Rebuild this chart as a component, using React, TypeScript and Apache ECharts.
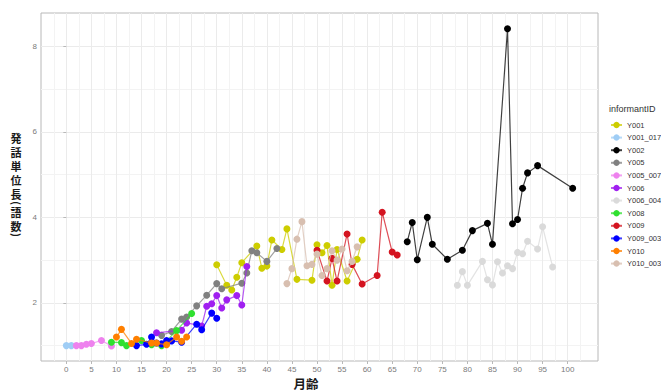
import React, { useEffect, useRef } from "react";
import * as echarts from "echarts";

// ---- data: [month, utterance length] ----
const seriesNames = ["Y001", "Y001_017", "Y002", "Y005", "Y005_007", "Y006", "Y006_004", "Y008", "Y009", "Y009_003", "Y010", "Y010_003"];
const seriesColors = ["#cdcd00", "#9fcdf5", "#000000", "#808080", "#ee82ee", "#a020f0", "#dadada", "#2fe02f", "#d41420", "#0000ff", "#ff7f00", "#d8bfb0"];

const Y001 = [[30, 2.89], [32, 2.41], [33, 2.3], [34, 2.6], [35, 2.94], [38, 3.33], [39, 2.81], [40, 2.86], [41, 3.47], [43, 3.25], [44, 3.73], [46, 2.55], [49, 2.53], [50, 3.36], [51, 3.17], [52, 3.34], [53, 2.41], [54, 3.25], [56, 2.51], [58, 3.02], [59, 3.47]];
const Y001_017 = [[0, 1.0], [1, 1.0]];
const Y002 = [[68, 3.43], [69, 3.88], [70, 3.01], [72, 4.0], [73, 3.37], [76, 3.02], [79, 3.23], [81, 3.69], [84, 3.86], [85, 3.37], [88, 8.41], [89, 3.85], [90, 3.95], [91, 4.68], [92, 5.04], [94, 5.21], [101, 4.68]];
const Y005 = [[19, 1.24], [21, 1.33], [23, 1.62], [24, 1.67], [26, 1.93], [28, 2.18], [30, 2.45], [31, 2.33], [35, 2.46], [36, 2.7], [37, 3.22], [38, 3.17], [40, 2.97], [42, 3.27]];
const Y005_007 = [[2, 1.0], [3, 1.0], [4, 1.03], [5, 1.05], [7, 1.12], [9, 0.99]];
const Y006 = [[18, 1.3], [23, 1.36], [24, 1.53], [27, 1.46], [28, 1.92], [29, 1.98], [30, 2.17], [31, 1.88], [32, 2.07], [34, 2.17], [35, 1.95], [36, 2.85]];
const Y006_004 = [[78, 2.41], [79, 2.73], [80, 2.41], [83, 2.97], [84, 2.54], [85, 2.42], [86, 2.96], [87, 2.7], [88, 2.87], [89, 2.8], [90, 3.18], [91, 3.15], [92, 3.44], [94, 3.26], [95, 3.78], [97, 2.84]];
const Y008 = [[9, 1.08], [11, 1.07], [12, 1.0], [15, 1.12], [17, 1.02], [19, 1.0], [22, 1.35], [25, 1.75]];
const Y009 = [[50, 3.23], [52, 2.51], [53, 3.04], [54, 2.51], [56, 3.61], [57, 2.9], [59, 2.44], [62, 2.64], [63, 4.12], [65, 3.19], [66, 3.12]];
const Y009_003 = [[14, 1.0], [16, 1.03], [17, 1.2], [18, 1.06], [19, 1.04], [20, 1.12], [21, 1.11], [23, 1.08], [26, 1.5], [27, 1.37], [29, 1.76], [30, 1.64]];
const Y010 = [[10, 1.2], [11, 1.38], [13, 1.05], [14, 1.15], [17, 1.06], [18, 1.06], [20, 1.02], [22, 1.2], [23, 1.1], [24, 1.2]];
const Y010_003 = [[44, 2.45], [45, 2.8], [46, 3.49], [47, 3.9], [48, 2.87], [49, 2.9], [50, 3.14], [51, 2.64], [52, 2.8], [53, 3.22], [54, 3.0], [55, 3.26], [56, 2.75], [57, 2.97], [58, 3.31]];

const seriesData = [Y001, Y001_017, Y002, Y005, Y005_007, Y006, Y006_004, Y008, Y009, Y009_003, Y010, Y010_003];

const xMajorTicks = [0, 5, 10, 15, 20, 25, 30, 35, 40, 45, 50, 55, 60, 65, 70, 75, 80, 85, 90, 95, 100];
const xMinorTicks = [-2.5, 2.5, 7.5, 12.5, 17.5, 22.5, 27.5, 32.5, 37.5, 42.5, 47.5, 52.5, 57.5, 62.5, 67.5, 72.5, 77.5, 82.5, 87.5, 92.5, 97.5, 102.5];
const yMajorTicks = [2, 4, 6, 8];
const yMinorTicks = [1, 3, 5, 7];

const xTitle = "月齢";
const yTitleMain = "発\n話\n単\n位\n長";
const yTitleInner = "語\n数";
const yTitleOpen = "(";
const yTitleClose = ")";
const legendTitle = "informantID";

const X_MIN = -5.05, X_MAX = 106.05, Y_MIN = 0.64, Y_MAX = 8.78;

export default function App() {
  const ref = useRef<HTMLDivElement>(null);
  useEffect(() => {
    if (!ref.current) return;
    const chart = echarts.init(ref.current, null, { renderer: "svg" });
    const sans = "'Liberation Sans', Arial, sans-serif";
    const cjk = "'Noto Sans CJK JP', sans-serif";
    const titleStyle = { fontSize: 11, fontWeight: "bold", fill: "#1a1a1a", fontFamily: cjk, align: "center", verticalAlign: "middle", lineHeight: 14 };
    const option: any = {
      animation: false,
      backgroundColor: "#ffffff",
      grid: { left: 41, top: 13, width: 557, height: 348, show: true, borderColor: "#b8b8b8", borderWidth: 1, backgroundColor: "transparent", containLabel: false },
      xAxis: [
        {
          type: "value", min: X_MIN, max: X_MAX,
          axisLine: { show: false },
          axisTick: { show: true, length: 3, customValues: xMajorTicks, lineStyle: { color: "#b8b8b8" } },
          axisLabel: { customValues: xMajorTicks, fontSize: 8, color: "#7a7a7a", margin: 4, fontFamily: sans },
          splitLine: { show: true, lineStyle: { color: "#ebebeb", width: 1 } },
        },
        {
          type: "value", min: X_MIN, max: X_MAX, position: "bottom",
          axisLine: { show: false },
          axisTick: { show: false, customValues: xMinorTicks },
          axisLabel: { show: false, customValues: xMinorTicks },
          splitLine: { show: true, lineStyle: { color: "#f3f3f3", width: 1 } },
        },
      ],
      yAxis: [
        {
          type: "value", min: Y_MIN, max: Y_MAX,
          axisLine: { show: false },
          axisTick: { show: true, length: 3, customValues: yMajorTicks, lineStyle: { color: "#b8b8b8" } },
          axisLabel: { customValues: yMajorTicks, fontSize: 8, color: "#7a7a7a", margin: 4, fontFamily: sans },
          splitLine: { show: true, lineStyle: { color: "#ebebeb", width: 1 } },
        },
        {
          type: "value", min: Y_MIN, max: Y_MAX, position: "left",
          axisLine: { show: false },
          axisTick: { show: false, customValues: yMinorTicks },
          axisLabel: { show: false, customValues: yMinorTicks },
          splitLine: { show: true, lineStyle: { color: "#f3f3f3", width: 1 } },
        },
      ],
      legend: {
        orient: "vertical", left: 610, top: 120, padding: 0,
        itemWidth: 11, itemHeight: 8, itemGap: 2.6,
        textStyle: { fontSize: 7.5, color: "#333", fontFamily: sans, lineHeight: 10 },
        data: seriesNames,
      },
      series: seriesNames.map((name, i) => ({
        name, type: "line", data: seriesData[i],
        xAxisIndex: 0, yAxisIndex: 0,
        symbol: "circle", symbolSize: 7, showSymbol: true,
        itemStyle: { color: seriesColors[i], opacity: 1 },
        lineStyle: { color: seriesColors[i], width: 1.2, opacity: 0.75 },
        emphasis: { disabled: true },
        z: 2 + i,
      })),
      graphic: [
        { type: "text", left: 609, top: 104, style: { text: legendTitle, fontSize: 9, fill: "#333", fontFamily: sans } },
        { type: "text", x: 306, y: 383, style: { text: xTitle, fontSize: 12.5, fontWeight: "bold", fill: "#1a1a1a", fontFamily: cjk, align: "center", verticalAlign: "middle" } },
        { type: "text", x: 16, y: 166, style: { ...titleStyle, text: yTitleMain } },
        { type: "text", x: 16, y: 203, rotation: -Math.PI / 2, style: { ...titleStyle, fontSize: 10.5, lineHeight: 6, text: yTitleOpen } },
        { type: "text", x: 16, y: 219, style: { ...titleStyle, text: yTitleInner } },
        { type: "text", x: 16, y: 235, rotation: -Math.PI / 2, style: { ...titleStyle, fontSize: 10.5, lineHeight: 6, text: yTitleClose } },
      ],
    };
    chart.setOption(option);
    return () => chart.dispose();
  }, []);
  return <div ref={ref} style={{ position: "fixed", left: 0, top: 0, width: 661, height: 391 }} />;
}
